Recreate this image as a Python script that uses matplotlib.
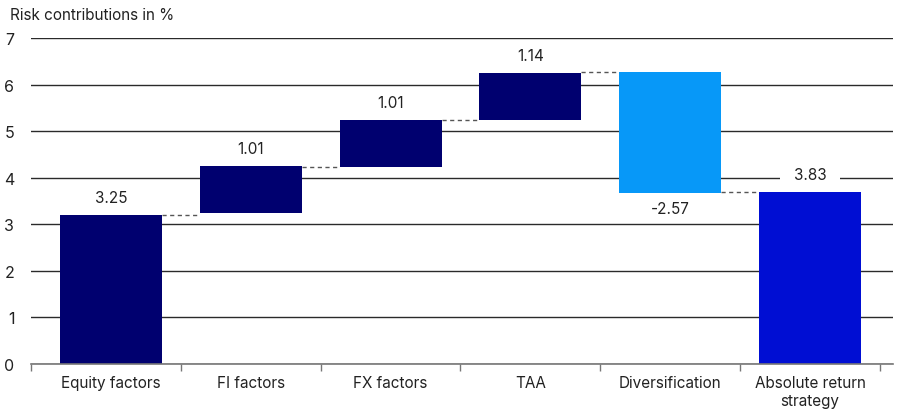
import numpy as np
import matplotlib
matplotlib.use("Agg")
import matplotlib.pyplot as plt

plt.rcParams['font.family'] = ['Inter', 'DejaVu Sans']

# data
categories = ["Equity factors", "FI factors", "FX factors", "TAA",
              "Diversification", "Absolute return\nstrategy"]
contributions = [3.25, 1.01, 1.01, 1.14, -2.57, 3.83]
# bar extents as drawn in the reference
bar_bottoms = [0.0, 3.25, 4.23, 5.24, 3.68, 0.0]
bar_tops = [3.20, 4.25, 5.24, 6.25, 6.27, 3.69]
# dashed connector level between bar i and bar i+1
connector_levels = [3.20, 4.23, 5.24, 6.27, 3.69]
bar_colors = ["#00006f", "#00006f", "#00006f", "#00006f", "#0798f8", "#000ed3"]

fig = plt.figure(figsize=(9.02, 4.14), dpi=100)
ax = fig.add_axes([31 / 902, 1 - 365 / 414, (893 - 31) / 902, (365 - 39.3) / 414])

x = np.arange(len(categories))
width = 0.73
heights = np.array(bar_tops) - np.array(bar_bottoms)
ax.bar(x, heights, bottom=bar_bottoms, width=width, color=bar_colors, zorder=4)

# connectors
for i, lvl in enumerate(connector_levels):
    ax.plot([x[i] + width / 2, x[i + 1] - width / 2], [lvl, lvl],
            color="#555555", lw=1.0, ls=(0, (3, 2.5)), zorder=3)

# value labels
for i, v in enumerate(contributions):
    if v >= 0:
        y, off = bar_tops[i], 12.5
    else:
        y, off = bar_bottoms[i], -11
    # the total sits on a gridline, give it a white patch
    box = None
    if i == len(contributions) - 1:
        box = dict(boxstyle="square,pad=0.9", fc="white", ec="none")
    ax.annotate(f"{v:.2f}", (x[i], y), xytext=(0, off), textcoords="offset points",
                ha="center", va="center", fontsize=11, color="#222222", zorder=3,
                bbox=box)

ax.set_xlim(-0.572, 5.594)
ax.set_ylim(0, 7)
ax.set_yticks(range(0, 8))
ax.yaxis.grid(True, color="#2a2a2a", lw=1.0, zorder=0)
ax.set_axisbelow(True)
ax.tick_params(axis="y", length=0, pad=12, labelsize=11.5, labelcolor="#222222")

# boundary ticks (major) and category labels (minor)
ax.set_xticks(np.concatenate([[-0.572], x[:-1] + 0.5, [5.5]]))
ax.set_xticklabels([])
ax.set_xticks(x, minor=True)
ax.set_xticklabels(categories, minor=True, fontsize=11, color="#222222", linespacing=1.2)
ax.tick_params(axis="x", which="major", length=5, color="#777777", width=1.0)
ax.tick_params(axis="x", which="minor", length=0, pad=8)

for s in ["top", "right", "left"]:
    ax.spines[s].set_visible(False)
ax.spines["bottom"].set_color("#777777")
ax.spines["bottom"].set_linewidth(1.2)
ax.spines["bottom"].set_zorder(5)

fig.text(10 / 902, 1 - 20 / 414, "Risk contributions in %", fontsize=11,
         color="#222222", va="baseline", ha="left")

fig.savefig("out.png", dpi=100)
